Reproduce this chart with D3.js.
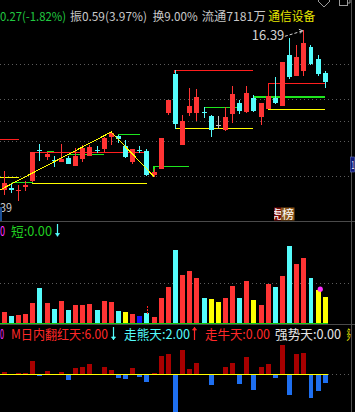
<!DOCTYPE html>
<html>
<head>
<meta charset="utf-8">
<style>
  body { margin: 0; background: #000; }
  svg { display: block; background: #000; }
  text { font-family: "Noto Sans CJK SC", "DejaVu Sans", sans-serif; }
</style>
<script src="https://d3js.org/d3.v7.min.js"></script>
</head>
<body>
<svg width="355" height="412"></svg>
<script>
// velas diarias
const apertura = [10.77,10.82,10.76,10.86,11.08,12.19,11.93,11.83,11.76,11.88,11.62,11.87,11.97,12.16,12.22,12.62,12.67,12.32,11.76,12.18,12.15,11.30,11.52,13.49,14.86,12.36,13.49,13.49,13.52,13.37,13.04,12.87,13.43,13.83,13.51,14.02,13.32,13.63,14.02,13.72,15.52,14.78,14.97,15.80,15.38,14.88];
const maximo   = [11.44,10.98,10.93,11.07,12.10,12.38,12.12,11.96,12.39,11.96,12.24,12.35,12.35,12.32,12.63,12.81,12.70,12.52,12.21,12.32,12.21,11.50,12.60,13.94,14.99,13.41,14.36,14.32,13.68,13.42,13.37,13.70,14.43,13.92,14.43,14.11,13.83,14.08,14.76,15.27,16.12,15.87,16.39,15.89,15.52,14.96];
const minimo   = [10.59,10.67,10.39,10.73,11.05,11.79,11.82,11.59,11.75,11.68,11.62,11.75,11.97,12.08,12.10,12.36,12.41,11.90,11.68,12.08,11.27,11.24,11.52,13.42,12.93,12.36,13.38,13.21,13.31,12.64,12.93,12.85,13.14,13.46,13.48,13.50,13.07,13.63,13.80,13.72,14.69,14.78,14.79,15.17,14.78,14.35];
const cierre   = [11.01,10.77,10.78,10.95,12.10,12.16,12.05,11.81,11.87,11.68,11.97,12.25,12.28,12.14,12.59,12.76,12.55,11.94,12.21,12.16,11.31,11.40,12.60,13.94,13.10,13.20,13.72,14.04,13.50,12.87,13.04,13.33,14.15,13.56,14.18,13.55,13.83,14.08,13.84,15.27,14.76,15.45,15.94,15.20,14.85,14.56];

// volumen (万手) y marca especial (0 normal, 1 amarilla, 2 azul)
const volumen  = [2.73,1.74,1.99,2.24,4.97,8.70,4.97,3.48,5.47,3.23,4.47,4.47,4.72,3.23,5.47,5.22,2.98,2.73,2.24,1.74,2.49,1.49,6.21,8.95,18.14,11.93,12.92,11.18,6.21,5.96,5.22,6.21,9.19,6.21,10.44,5.72,4.47,9.69,8.95,11.68,19.13,14.66,16.15,11.18,8.20,6.46];
const volMarca = [0,0,0,0,0,0,0,0,0,0,0,0,0,0,0,0,0,1,0,2,0,0,0,0,0,0,0,0,0,1,1,0,0,0,0,1,0,0,0,0,0,0,0,0,1,1];

// indicador inferior
const oscilador = [0.2,0,0.1,0.1,1.3,-0.13,0.3,0,0.2,-0.5,0.6,0.7,1.0,0,0.7,0.4,-0.3,-0.4,0.6,-0.2,-0.7,0.1,1.8,2.0,-4.2,2.4,0.5,1.1,0,-1.0,0,0.7,1.1,-0.9,1.7,-1.5,0.7,1.0,-0.3,2.9,-2.0,2.0,2.1,-2.3,-1.6,-0.8];

// lineas de referencia del grafico de precios
const gridPrecios = [15.19, 13.97, 13.21, 12.48, 11.25];
const zigzag = [[-0.6, 10.77], [15, 12.81], [21, 11.24]];
// [desde, hasta, precio, precio del tramo vertical]
const nivelAmarillo = [[-0.6, 2.1, 11.21, null], [3.9, 20, 11.00, null], [23.94, 34.84, 12.94, null], [37.03, 44.98, 13.61, null]];
const nivelRojo = [[-0.6, 2.06, 12.55, null], [3.74, 19.97, 12.09, null], [23.94, 34.84, 14.98, 14.88], [37.03, 44.98, 14.52, 14.08]];
const nivelVerde = [[1.12, 4.07, 11.04, null], [5.99, 6.97, 12.12, null], [8.98, 13.98, 12.03, null], [15.99, 19.03, 12.73, null], [21, 25.9, 11.60, 11.41], [28.05, 32.82, 13.68, null], [34.84, 44.98, 14.04, null]];

const cabecera = ["0.27(-1.82%)", "振0.59(3.97%)", "换9.00%", "流通7181万", "通信设备"];
const textoVol = ["0", "短:0.00"];
const textoOsc = ["0", "M日内翻红天:6.00", "走熊天:2.00", "走牛天:0.00", "强势天:0.00"];
const maxEtiqueta = "16.39", minEtiqueta = "39", etiquetaDerecha = "1";

var ROJO = "#ff3434", CIAN = "#54fcfc", GRIS = "#c4c4c4";

var svg = d3.select("svg"),
    W = +svg.attr("width"),
    H = +svg.attr("height");

svg.append("rect").attr("width", W).attr("height", H).attr("fill", "#000");

var dias = d3.range(apertura.length);
var x = d3.scaleBand().domain(dias).range([-0.34, 329.9]).padding(0.3);
var bw = x.bandwidth();
var xi = d3.scaleLinear().domain([0, dias.length - 1]).range([x(0) + bw / 2, x(dias.length - 1) + bw / 2]);
var yP = d3.scaleLinear().domain([10.39, 16.39]).range([200.7, 30.3]);
var yV = d3.scaleLinear().domain([0, 20]).range([323, 242.5]);
var yO = d3.scaleLinear().domain([-3.8, 3.6]).range([412, 338]);

function colorVela(i) {
  if (cierre[i] > apertura[i]) return ROJO;
  if (cierre[i] < apertura[i]) return CIAN;
  return GRIS;
}

var g = svg.append("g").attr("shape-rendering", "crispEdges");

// rejilla punteada
g.selectAll(".grid").data(gridPrecios).enter().append("line")
  .attr("x1", 0).attr("x2", 351)
  .attr("y1", d => Math.round(yP(d)) + 0.5).attr("y2", d => Math.round(yP(d)) + 0.5)
  .attr("stroke", "#5c5c5c").attr("stroke-dasharray", "1,3");

g.append("line").attr("x1", 0).attr("x2", 351)
  .attr("y1", Math.round(yV(10)) + 0.5).attr("y2", Math.round(yV(10)) + 0.5)
  .attr("stroke", "#5c5c5c").attr("stroke-dasharray", "1,3");

g.append("line").attr("x1", 0).attr("x2", 351)
  .attr("y1", yO(0) + 0.5).attr("y2", yO(0) + 0.5)
  .attr("stroke", "#5c5c5c").attr("stroke-dasharray", "1,3");

// separadores de paneles
[221.5, 324.5].forEach(function (yy) {
  g.append("line").attr("x1", 0).attr("x2", W).attr("y1", yy).attr("y2", yy)
    .attr("stroke", "#4a4a4a").attr("stroke-width", 1.5);
});

// niveles horizontales
function dibujaNiveles(lista, color) {
  lista.forEach(function (n) {
    g.append("line")
      .attr("x1", xi(n[0])).attr("x2", xi(n[1]))
      .attr("y1", yP(n[2])).attr("y2", yP(n[2]))
      .attr("stroke", color).attr("stroke-width", 1.2);
    if (n[3] != null) {
      g.append("line")
        .attr("x1", xi(n[0])).attr("x2", xi(n[0]))
        .attr("y1", yP(n[2])).attr("y2", yP(n[3]))
        .attr("stroke", color).attr("stroke-width", 1.2);
    }
  });
}
dibujaNiveles(nivelAmarillo, "#ffff00");
dibujaNiveles(nivelRojo, "#ff1e1e");
dibujaNiveles(nivelVerde, "#1ee61e");

// velas
g.selectAll(".mecha").data(dias).enter().append("line")
  .attr("x1", d => xi(d)).attr("x2", d => xi(d))
  .attr("y1", d => yP(maximo[d])).attr("y2", d => yP(minimo[d]))
  .attr("stroke", d => colorVela(d));

g.selectAll(".cuerpo").data(dias).enter().append("rect")
  .attr("x", d => x(d))
  .attr("width", bw)
  .attr("y", d => yP(Math.max(apertura[d], cierre[d])))
  .attr("height", d => Math.max(1, Math.abs(yP(apertura[d]) - yP(cierre[d]))))
  .attr("fill", d => colorVela(d));

// linea zigzag
svg.append("path")
  .attr("d", d3.line().x(d => xi(d[0])).y(d => yP(d[1]))(zigzag))
  .attr("fill", "none").attr("stroke", "#ffff00").attr("stroke-width", 1)
  .attr("shape-rendering", "crispEdges");

// etiqueta del maximo con flecha
var iMax = d3.maxIndex(maximo);
svg.append("text").attr("x", xi(iMax) - 52).attr("y", yP(maximo[iMax]) + 10)
  .attr("font-size", 13).attr("fill", "#d2d2d2").text(maxEtiqueta);
svg.append("path")
  .attr("d", "M" + (xi(iMax) - 19) + "," + (yP(maximo[iMax]) + 6) + " L" + (xi(iMax) - 1) + "," + (yP(maximo[iMax]) + 0.5))
  .attr("stroke", "#d2d2d2").attr("stroke-dasharray", "3,2").attr("fill", "none");
svg.append("path")
  .attr("d", "M" + (xi(iMax) - 5) + "," + (yP(maximo[iMax]) - 1) + " L" + (xi(iMax) - 1) + "," + (yP(maximo[iMax]) + 0.5) + " L" + (xi(iMax) - 4) + "," + (yP(maximo[iMax]) + 3))
  .attr("stroke", "#d2d2d2").attr("fill", "none");

// etiqueta del minimo (solo se ve el final)
var iMin = d3.minIndex(minimo);
svg.append("text").attr("x", 0).attr("y", yP(minimo[iMin]) + 11.5)
  .attr("font-size", 12).attr("textLength", 12).attr("lengthAdjust", "spacingAndGlyphs")
  .attr("fill", "#c8c8c8").text(minEtiqueta);
svg.append("rect").attr("x", 0).attr("y", 207).attr("width", 2).attr("height", 14).attr("fill", "#1c4f94");

// etiqueta 龙虎榜
svg.append("clipPath").attr("id", "recorte").append("rect")
  .attr("x", 274).attr("y", 207).attr("width", 7).attr("height", 14);
svg.append("rect").attr("x", 274).attr("y", 207.5).attr("width", 7).attr("height", 13).attr("fill", "#7a0c0c");
svg.append("rect").attr("x", 281).attr("y", 207.5).attr("width", 13.5).attr("height", 13).attr("fill", "#8a5418");
svg.append("text").attr("x", 270).attr("y", 219).attr("font-size", 12).attr("fill", "#fff")
  .attr("clip-path", "url(#recorte)").text("虎");
svg.append("text").attr("x", 282).attr("y", 219).attr("font-size", 12).attr("fill", "#fff").text("榜");

// volumen
function colorVol(i) {
  if (volMarca[i] == 1) return "#ffff00";
  if (volMarca[i] == 2) return "#1414ff";
  return colorVela(i);
}
g.selectAll(".vol").data(dias).enter().append("rect")
  .attr("x", d => x(d)).attr("width", bw)
  .attr("y", d => yV(volumen[d]))
  .attr("height", d => yV(0) - yV(volumen[d]))
  .attr("fill", d => colorVol(d));

g.append("line").attr("x1", 0).attr("x2", xi(45) + 3)
  .attr("y1", yV(0) + 0.5).attr("y2", yV(0) + 0.5).attr("stroke", "#10d010");

// marca roja sobre la barra 20 y punto magenta
g.append("line").attr("x1", xi(20) + 1).attr("x2", xi(20) + 1)
  .attr("y1", yV(volumen[20]) - 7).attr("y2", yV(volumen[20]) + 1)
  .attr("stroke", "#ff2020").attr("stroke-dasharray", "2,1");
svg.append("circle").attr("cx", xi(44.3)).attr("cy", yV(8.4)).attr("r", 2.6).attr("fill", "#ff30ff");

// oscilador inferior
g.selectAll(".osc").data(dias).enter().append("rect")
  .attr("x", d => x(d)).attr("width", bw)
  .attr("y", d => oscilador[d] >= 0 ? yO(oscilador[d]) : yO(0) + 1)
  .attr("height", d => Math.abs(yO(0) - yO(oscilador[d])))
  .attr("fill", d => oscilador[d] >= 0 ? "#a80000" : "#1e6ff0");

g.append("line").attr("x1", 0).attr("x2", xi(45) + 3)
  .attr("y1", yO(0) + 0.5).attr("y2", yO(0) + 0.5).attr("stroke", "#ffff00");

// textos de encabezado
var posCab = [[0, 66, "#20c840"], [70, 77, "#c8c8c8"], [152.7, 45, "#c8c8c8"], [201.7, 64, "#c8c8c8"], [268.3, 47, "#e6e600"]];
cabecera.forEach(function (t, k) {
  svg.append("text").attr("x", posCab[k][0]).attr("y", 21).attr("font-size", 12)
    .attr("textLength", posCab[k][1]).attr("lengthAdjust", "spacingAndGlyphs")
    .attr("fill", posCab[k][2]).text(t);
});

svg.append("text").attr("x", 0).attr("y", 235.5).attr("font-size", 13)
  .attr("textLength", 5).attr("lengthAdjust", "spacingAndGlyphs").attr("fill", "#ff30ff").text(textoVol[0]);
svg.append("text").attr("x", 11).attr("y", 235.5).attr("font-size", 13)
  .attr("textLength", 41).attr("lengthAdjust", "spacingAndGlyphs").attr("fill", "#20d020").text(textoVol[1]);

function flecha(xx, y0, y1, color) {
  var s = y1 > y0 ? -1 : 1;
  svg.append("line").attr("x1", xx).attr("x2", xx).attr("y1", y0).attr("y2", y1)
    .attr("stroke", color).attr("stroke-width", 1.2);
  svg.append("path")
    .attr("d", "M" + (xx - 2) + "," + (y1 + 3 * s) + " L" + (xx + 2) + "," + (y1 + 3 * s) + " L" + xx + "," + (y1 + 0.5 * s) + "Z")
    .attr("fill", color).attr("stroke", color).attr("stroke-width", 0.8);
}
flecha(57.5, 224, 236.5, CIAN);

var posOsc = [[0, 4, "#ff30ff"], [11, 97, "#ff2828"], [124, 66, CIAN], [205, 65, "#ff2828"], [275, 66, "#e6e6e6"]];
textoOsc.forEach(function (t, k) {
  svg.append("text").attr("x", posOsc[k][0]).attr("y", 339).attr("font-size", 13)
    .attr("textLength", posOsc[k][1]).attr("lengthAdjust", "spacingAndGlyphs")
    .attr("fill", posOsc[k][2]).text(t);
});
// resto de texto amarillo al borde derecho
svg.append("text").attr("transform", "translate(346.5,339) scale(0.33,1)")
  .attr("font-size", 13).attr("fill", "#e6e600").text("多");
flecha(113.5, 327, 340, CIAN);
flecha(194.5, 340, 327, "#ff2828");

// eje derecho
svg.append("line").attr("x1", 351.5).attr("x2", 351.5).attr("y1", 0).attr("y2", H)
  .attr("stroke", "#505050").attr("shape-rendering", "crispEdges");
svg.append("rect").attr("x", 350.5).attr("y", 157).attr("width", 4).attr("height", 15)
  .attr("fill", "#101a7c").attr("stroke", "#6070c0").attr("stroke-width", 0.6);
svg.append("text").attr("transform", "translate(351.4,168.5) scale(0.45,1)")
  .attr("font-size", 11).attr("fill", "#fff").text(etiquetaDerecha);

// iconos de ventana
svg.append("path").attr("d", "M318,1 L324,-5 L330,1 L324,7 Z")
  .attr("fill", "none").attr("stroke", "#9a9a9a");
svg.append("rect").attr("x", 339.5).attr("y", -2.5).attr("width", 8).attr("height", 8)
  .attr("fill", "none").attr("stroke", "#9a9a9a");
svg.append("path").attr("d", "M342.5,-2.5 V-5 H350 V3 H347.5")
  .attr("fill", "none").attr("stroke", "#9a9a9a");
</script>
</body>
</html>
